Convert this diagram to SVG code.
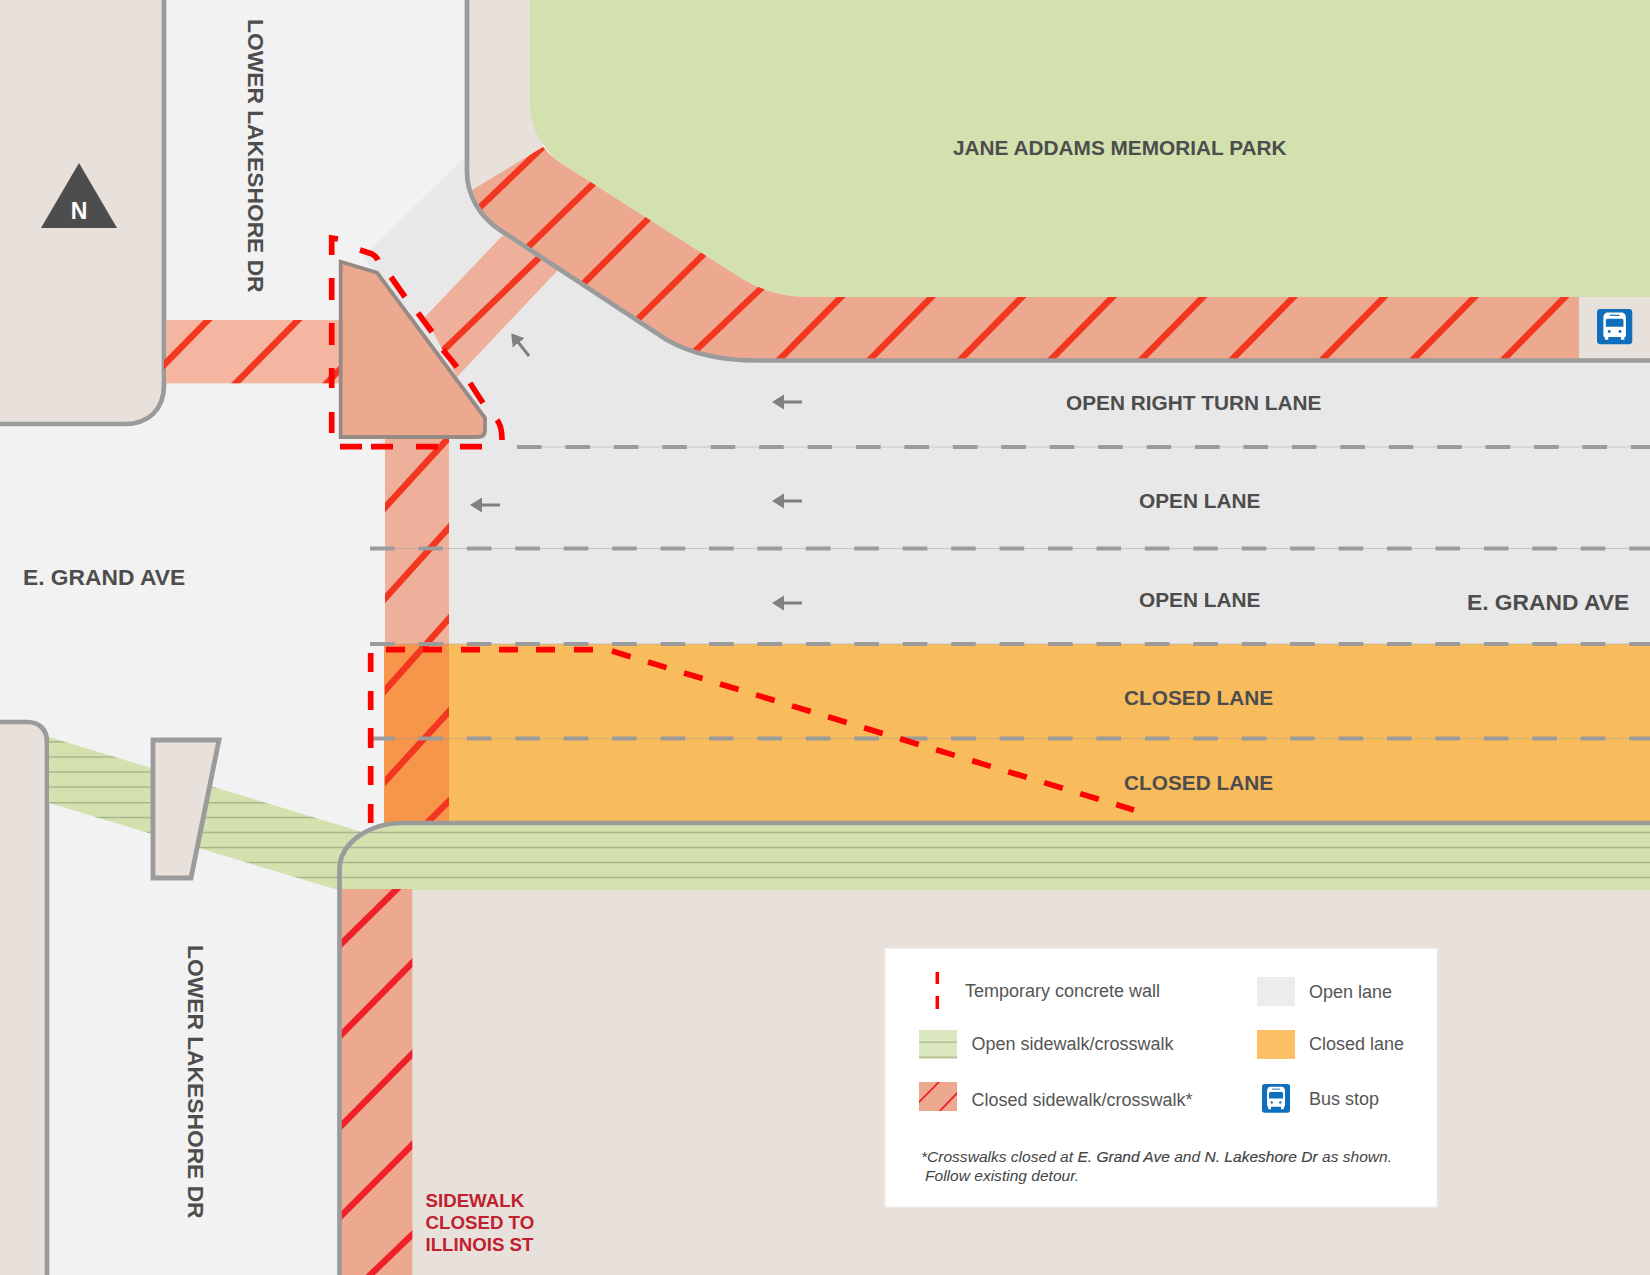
<svg xmlns="http://www.w3.org/2000/svg" xmlns:xlink="http://www.w3.org/1999/xlink" width="1650" height="1275" viewBox="0 0 1650 1275">
<style>
text{font-family:"Liberation Sans",Arial,sans-serif}
.lb{font-weight:700;font-size:20.8px;fill:#4d4d4d}
.st{font-weight:700;font-size:22.8px;fill:#4d4d4d}
.cl{font-weight:700;font-size:18.7px;fill:#c1202f}
.lg{font-size:18px;fill:#555}
.fn{font-size:15.55px;font-style:italic;fill:#444}
.fb{stroke:#444;stroke-width:.2px}
.beige{fill:#e8e0da}
.curb{fill:none;stroke:#9b9b9b;stroke-width:4.7}
.slash{stroke:#f2361f;stroke-width:6.4;fill:none}
.slash2{stroke:#ef2028;stroke-width:6.4;fill:none}
.wall{stroke:#f00;stroke-width:5.7;fill:none}
.lane{stroke:#9b9b9b;stroke-width:4;stroke-dasharray:24.6 23.83;fill:none}
.hair{stroke:#9b9b9b;stroke-width:1;opacity:.45;fill:none}
.gl{stroke:#a9b68f;stroke-width:1.4;fill:none}
.arr{stroke:#808080;stroke-width:3;fill:none}
</style>
<defs>
<marker id="ah" markerUnits="userSpaceOnUse" markerWidth="13" markerHeight="16" refX="1" refY="8" orient="auto"><path d="M0,0.500 L0,15.500 L12,8Z" fill="#808080"/></marker>
<clipPath id="cSide"><path d="M472,190 L543,147 C548,153 557,161 567,167 L733,273 C755,287 775,297 810,297 H1579 V360 H757 C720,360 690,353 667,340 L500,230 C488,222 478,207 472,190Z"/></clipPath>
<clipPath id="cDiag"><path d="M425,317 L503,235 L558,270 L457,377Z"/></clipPath>
<clipPath id="cNW"><rect x="164" y="320" width="178" height="63.300"/></clipPath>
<clipPath id="cVert"><rect x="385" y="437" width="64" height="385"/></clipPath>
<clipPath id="cSouth"><rect x="340" y="889" width="72.300" height="386"/></clipPath>
<clipPath id="cGreen"><path d="M49,737 L362,832 L403,823 H1650 V890 H338 L49,803Z"/></clipPath>
<clipPath id="cKey"><rect x="919" y="1082" width="38" height="29"/></clipPath>
<g id="bus">
<rect x="0" y="0" width="36" height="36" rx="3.500" fill="#0f6fbd"/>
<path d="M11,3.500 H25 C28,3.500 29.500,6 29.500,9 V27 C29.500,28 29,28.500 28,28.500 V31.500 H24.500 V28.500 H11.500 V31.500 H8 V28.500 C7,28.500 6.500,28 6.500,27 V9 C6.500,6 8,3.500 11,3.500Z" fill="#fff"/>
<path d="M11,10 H25 C26.500,10 27,11 27,12 V18 H9 V12 C9,11 9.500,10 11,10Z" fill="#0f6fbd"/>
<circle cx="12.500" cy="23" r="1.500" fill="#0f6fbd"/><circle cx="23.500" cy="23" r="1.500" fill="#0f6fbd"/>
<rect x="13" y="5.800" width="10" height="1.200" fill="#0f6fbd"/>
</g>
</defs>

<rect id="background" width="1650" height="1275" fill="#f2f2f2"/>

<g id="road-lanes">
<path id="open-lanes" d="M363,257 L465,157 L500,230 L667,340 C690,353 720,360 757,360 H1650 V644 H449 V446 H380 V280Z" fill="#e8e8e8"/>
<rect id="closed-lanes" x="449" y="644" width="1201" height="179" fill="#f9bc5d"/>
</g>

<g id="nw-corner">
<path class="beige" d="M0,0 H164 V385 C164,410 148,424 125,424 H0Z"/>
<path class="curb" d="M164,0 V385 C164,410 148,424 125,424 H0"/>
</g>
<g id="sw-corner">
<path class="beige" d="M0,722 H27 C40,722 47,730 47,742 V1275 H0Z"/>
<path class="curb" d="M0,722 H27 C40,722 47,730 47,742 V1275"/>
</g>

<g id="nw-crosswalk">
<rect x="166" y="320" width="176" height="63.300" fill="#f4b5a1"/>
<g clip-path="url(#cNW)" class="slash"><path d="M159,370 L213,315"/><path d="M231,388 L303,315"/><path d="M322,388 L347,362"/></g>
</g>
<g id="vertical-crosswalk">
<rect x="385" y="437" width="64" height="207" fill="#eeb09b"/>
<rect x="384" y="644" width="65" height="179" fill="#f7964a"/>
<g clip-path="url(#cVert)" class="slash"><path d="M380,513 L453,433"/><path d="M380,604 L453,523"/><path d="M380,696 L453,614"/><path d="M380,787 L453,707"/><path d="M420,830 L453,797"/></g>
</g>
<g id="diagonal-crosswalk">
<path d="M425,317 L503,235 L558,270 L457,377Z" fill="#eeb09b"/>
<path d="M425,368 L545,252" class="slash" clip-path="url(#cDiag)"/>
</g>

<g id="south-block">
<rect class="beige" x="340" y="889" width="1310" height="386"/>
</g>
<g id="open-sidewalk">
<path d="M49,737 L362,832 L403,823 H1650 V890 H338 L49,803Z" fill="#d2e1ad"/>
<g clip-path="url(#cGreen)" class="gl"><path d="M49,741.700 H1650"/><path d="M49,757 H1650"/><path d="M49,772 H1650"/><path d="M49,787 H1650"/><path d="M49,802.700 H1650"/><path d="M49,817.500 H1650"/><path d="M49,832.500 H1650"/><path d="M49,847.500 H1650"/><path d="M49,862.500 H1650"/><path d="M49,877.500 H1650"/></g>
</g>
<g id="south-sidewalk">
<rect x="340" y="889" width="72.300" height="386" fill="#eda98f"/>
<g clip-path="url(#cSouth)" class="slash2"><path d="M337,948 L402,884"/><path d="M337,1039 L417,958"/><path d="M337,1130 L417,1049"/><path d="M337,1220 L417,1140"/><path d="M365,1280 L417,1230"/></g>
</g>

<g id="ne-corner">
<path class="beige" d="M467,0 H530 V110 L543,147 L472,190 L467,172Z"/>
<rect class="beige" x="1579" y="297" width="71" height="63"/>
</g>
<g id="park">
<path d="M530,0 V105 C530,130 545,153 567,167 L733,273 C755,287 775,297 810,297 H1650 V0Z" fill="#d2e1ad"/>
<text class="lb" x="953" y="155">JANE ADDAMS MEMORIAL PARK</text>
</g>
<g id="closed-sidewalk">
<path d="M472,190 L543,147 C548,153 557,161 567,167 L733,273 C755,287 775,297 810,297 H1579 V360 H757 C720,360 690,353 667,340 L500,230 C488,222 478,207 472,190Z" fill="#eda98f"/>
<g clip-path="url(#cSide)" class="slash">
<path d="M475,212 L547,143"/><path d="M525,250 L598,179"/><path d="M580,287 L653,214"/><path d="M635,322 L708,250"/><path d="M693,353 L770,280"/>
<path d="M774,365 L846,292"/><path d="M864.500,365 L936.500,292"/><path d="M955,365 L1027,292"/><path d="M1045.500,365 L1117.500,292"/><path d="M1136,365 L1208,292"/><path d="M1226.500,365 L1298.500,292"/><path d="M1317,365 L1389,292"/><path d="M1407.500,365 L1479.500,292"/><path d="M1498,365 L1570,292"/>
</g>
</g>

<g id="curbs">
<path class="curb" d="M467,0 V172 C467,195 480,217 500,230 L667,340 C690,353 720,360.500 757,360.500 H1650"/>
<path class="curb" d="M339.500,1275 V870 C339.500,842 370,823 403,823 H1650"/>
</g>

<g id="lane-lines">
<path class="hair" d="M517,447 H1650 M370,548.500 H1650 M370,644 H1650 M373,738.500 H1650"/>
<path class="lane" d="M517,447 H1650"/>
<path class="lane" d="M370,548.500 H1650"/>
<path class="lane" d="M370,644 H1650"/>
<path class="lane" d="M370,738.500 H1650"/>
</g>

<g id="island-ne">
<path d="M340.700,261.700 L377,272.700 L485,418 V430 Q485,437 478,437 H340.700Z" fill="#eda98f" stroke="#968a84" stroke-width="3.800"/>
</g>
<g id="island-sw">
<path class="beige" d="M153,740 H219 L191,878 H153Z" stroke="#9b9b9b" stroke-width="4.800"/>
</g>

<g id="walls" class="wall">
<path d="M338,239 L331.700,238 V255 M331.700,278 V300 M331.700,323 V345 M331.700,368 V388 M331.700,412 V433"/>
<path d="M360,250 L372,254 Q376,256 378,260"/>
<path d="M391,277 L405,297 M418,313 L432,332 M443,350 L457,367 M470,383 L483,403 M497,420 Q502,426 502,440"/>
<path d="M340,446.700 H362 M371,446.700 H393 M416,446.700 H438 M460,446.700 H482"/>
<path d="M370.700,653 V672 M370.700,691 V710 M370.700,728 V748 M370.700,766 V785 M370.700,804 V823"/>
<path d="M386,649.700 H405 M423,649.700 H442 M461,649.700 H480 M499,649.700 H518 M536,649.700 H555 M574,649.700 H593"/>
<path d="M612,651 L1134,810" stroke-dasharray="19.400 18.250"/>
</g>

<g id="arrows" class="arr">
<path d="M802,402 H783" marker-end="url(#ah)"/>
<path d="M802,501 H783" marker-end="url(#ah)"/>
<path d="M802,603 H783" marker-end="url(#ah)"/>
<path d="M500,505 H481" marker-end="url(#ah)"/>
<path d="M529,356 L518,342" marker-end="url(#ah)"/>
</g>

<g id="labels">
<text class="lb" x="1066" y="410">OPEN RIGHT TURN LANE</text>
<text class="lb" x="1139" y="508">OPEN LANE</text>
<text class="lb" x="1139" y="607">OPEN LANE</text>
<text class="lb" x="1124" y="705">CLOSED LANE</text>
<text class="lb" x="1124" y="790">CLOSED LANE</text>
<text class="st" x="23" y="585">E. GRAND AVE</text>
<text class="st" x="1467" y="610">E. GRAND AVE</text>
<text class="st" transform="translate(248,19) rotate(90)">LOWER LAKESHORE DR</text>
<text class="st" transform="translate(188,945) rotate(90)">LOWER LAKESHORE DR</text>
<text class="cl" x="425.500" y="1206.500">SIDEWALK</text>
<text class="cl" x="425.500" y="1229">CLOSED TO</text>
<text class="cl" x="425.500" y="1250.500">ILLINOIS ST</text>
</g>

<g id="north-arrow">
<path d="M79,163 L117,228 H41Z" fill="#4d4d4d"/>
<text x="79" y="219" text-anchor="middle" font-size="23" font-weight="700" fill="#fff">N</text>
</g>

<use id="bus-stop" xlink:href="#bus" href="#bus" transform="translate(1597,309) scale(.98)"/>

<g id="legend">
<rect x="885" y="948.500" width="552" height="258.500" fill="#fff" stroke="#f2f0ee" stroke-width="1"/>
<path d="M937.300,972 V984 M937.300,996 V1009" stroke="#f00" stroke-width="3.500" fill="none"/>
<text class="lg" x="965" y="997">Temporary concrete wall</text>
<rect x="919" y="1030" width="38" height="29" fill="#dbe7be"/>
<path d="M919,1042.300 H957 M919,1057.300 H957" stroke="#b4c196" stroke-width="1.500"/>
<text class="lg" x="971.500" y="1050">Open sidewalk/crosswalk</text>
<rect x="919" y="1082" width="38" height="29" fill="#eda98f"/>
<g clip-path="url(#cKey)" stroke="#ef2028" stroke-width="1.800" fill="none"><path d="M917,1104 L941,1080"/><path d="M937,1114 L960,1090"/></g>
<text class="lg" x="971.500" y="1106">Closed sidewalk/crosswalk*</text>
<rect x="1257" y="977" width="38" height="29" fill="#ececec"/>
<text class="lg" x="1309" y="998">Open lane</text>
<rect x="1257" y="1030" width="38" height="29" fill="#fdbf65"/>
<text class="lg" x="1309" y="1050">Closed lane</text>
<use xlink:href="#bus" href="#bus" transform="translate(1262,1084) scale(.78 .8)"/>
<text class="lg" x="1309" y="1105">Bus stop</text>
<text class="fn" x="921" y="1162">*Crosswalks closed at <tspan class="fb">E. Grand Ave</tspan> and <tspan class="fb">N. Lakeshore Dr</tspan> as shown.</text>
<text class="fn" x="925" y="1181">Follow existing detour.</text>
</g>
</svg>
